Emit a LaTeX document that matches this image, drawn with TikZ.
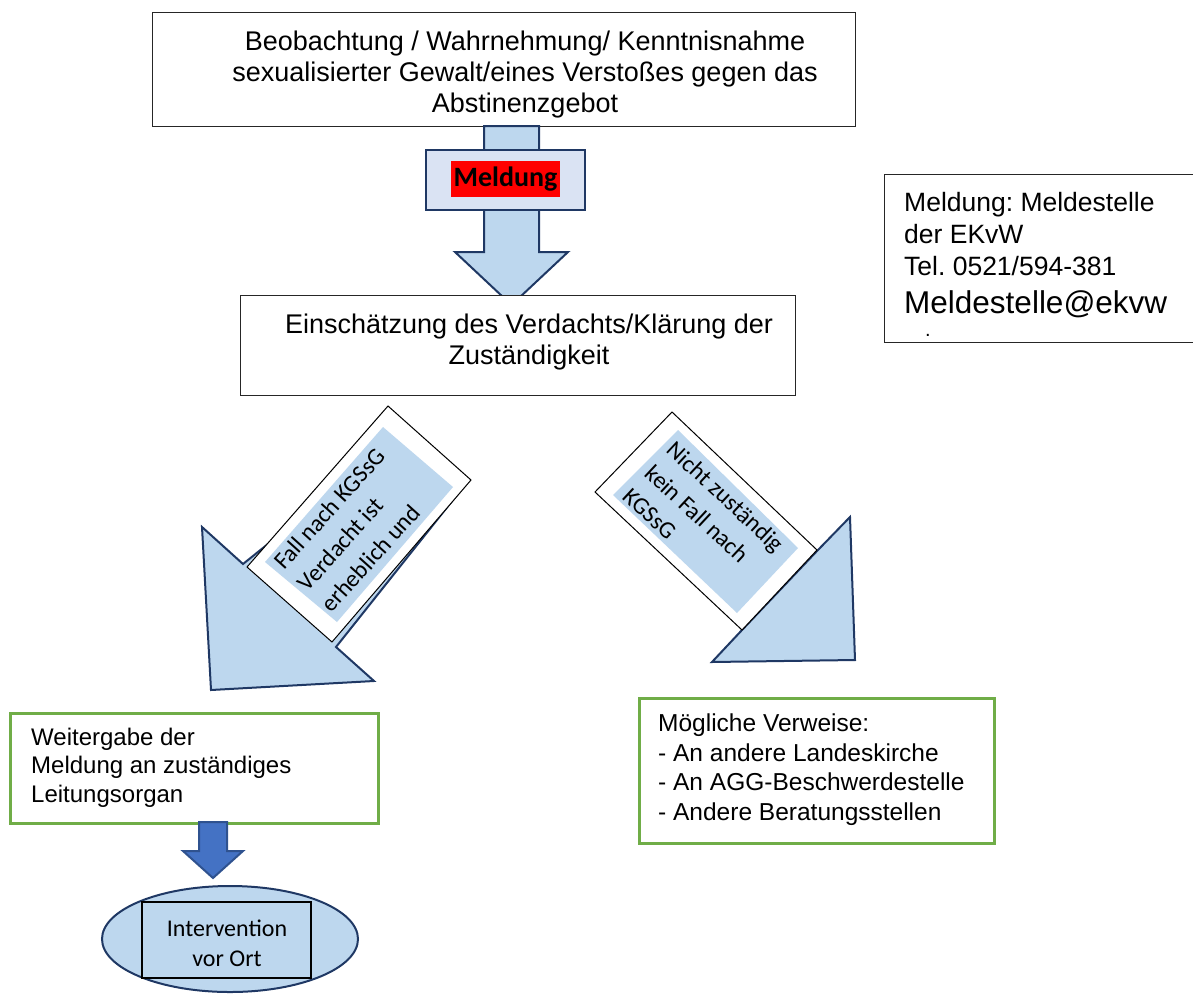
\documentclass[tikz,border=0pt]{standalone}
\usepackage{fontspec}
\setmainfont{Liberation Sans}
\newfontfamily\calibri{Carlito}
\usetikzlibrary{shapes.geometric}
\definecolor{lblue}{HTML}{BDD7EE}
\definecolor{navy}{HTML}{1F3864}
\definecolor{callout}{HTML}{DAE3F3}
\definecolor{lgreen}{HTML}{70AD47}
\definecolor{mblue}{HTML}{4472C4}
\definecolor{mborder}{HTML}{2F528F}
\frenchspacing
\begin{document}
\begin{tikzpicture}[x=1pt,y=-1pt,
  box/.style={draw=black!85, line width=1.3pt, fill=white, inner sep=0},
  arrowshape/.style={draw=navy, line width=2pt, fill=lblue, line join=miter},
  tiltbox/.style={draw=black, line width=1pt, fill=white},
  greenbox/.style={draw=lgreen, line width=2.5pt, fill=white, inner sep=0},
  arialtext/.style={inner sep=0, font=\fontsize{27}{31}\selectfont},
  calitext/.style={inner sep=0, font=\calibri\fontsize{24}{30}\selectfont},
  tilttext/.style={inner sep=0, font=\calibri\fontsize{24}{32}\selectfont, align=left}]
\useasboundingbox (0,0) rectangle (1193,993);

% top box
\node[box, minimum width=703, minimum height=114, anchor=north west] (obs) at (152,12) {};
\begin{scope}
\clip (152,12) rectangle (855,117);
\node[arialtext, align=center, anchor=north] (obsText) at (525,31) {Beobachtung / Wahrnehmung/ Kenntnisnahme\\sexualisierter Gewalt/eines Verstoßes gegen das\\Abstinenzgebot};
\end{scope}

% Meldung arrow
\draw[arrowshape] (484,126) -- (539,126) -- (539,252) -- (568,252) -- (511.5,305) -- (455,252) -- (484,252) -- cycle;
\node[draw=navy, line width=1.8pt, fill=callout, minimum width=159, minimum height=60, anchor=north west, inner sep=0] (meldbox) at (425,149) {};
\node[fill=red, font=\calibri\bfseries\fontsize{28}{32}\selectfont, inner sep=0, minimum width=109, minimum height=36] (meld) at (505.5,179) {Meldung};

% assessment box
\node[box, minimum width=555, minimum height=100, anchor=north west] (assess) at (240,295) {};
\node[arialtext, align=center] (assessText) at (529,342) {Einschätzung des Verdachts/Klärung der\\Zuständigkeit};

% contact box
\node[box, minimum width=312, minimum height=168, anchor=north west] (contact) at (884,174) {};
\node[inner sep=0, font=\fontsize{26.5}{32}\selectfont, align=left, anchor=north west] (contactText) at (904,192) {Meldung: Meldestelle\\der EKvW\\Tel. 0521/594-381};
\node[inner sep=0, font=\fontsize{31.5}{36}\selectfont, anchor=base west] (mail) at (904,313) {Meldestelle@ekvw};
\node[inner sep=0, font=\fontsize{20}{24}\selectfont, anchor=base west] (dot) at (925,336) {.};

% left diagonal arrow
\draw[arrowshape] (410,430) -- (243,564) -- (202,527) -- (211,690) -- (374,681) -- (336,647) -- (464,486) -- cycle;
\draw[tiltbox] (388,406) -- (471,480) -- (332,642) -- (247,567) -- cycle;
\fill[lblue] (383,427) -- (453,487) -- (337,622) -- (265,562) -- cycle;
\node[tilttext, rotate=48] (leftLabel) at (353,530) {Fall nach KGSsG\\Verdacht ist\\erheblich und};

% right diagonal arrow
\draw[arrowshape] (817,551) -- (850,517) -- (855,660) -- (712,662) -- (742,630) -- cycle;
\draw[tiltbox] (672,412) -- (817,550) -- (742,630) -- (595,492) -- cycle;
\fill[lblue] (678,430) -- (798,548) -- (737,613) -- (613,495) -- cycle;
\node[tilttext, rotate=-43] (rightLabel) at (704,520) {Nicht zuständig\\kein Fall nach\\KGSsG};

% green boxes
\node[greenbox, minimum width=368, minimum height=110, anchor=north west] (forward) at (9,712) {};
\node[inner sep=0, font=\fontsize{24}{28.5}\selectfont, align=left, anchor=north west] (forwardText) at (31,727.5) {Weitergabe der\\Meldung an zuständiges\\Leitungsorgan};

\node[greenbox, minimum width=355, minimum height=145, anchor=north west] (refer) at (638,697) {};
\node[inner sep=0, font=\fontsize{24.5}{29.5}\selectfont, align=left, anchor=north west] (referText) at (658,714) {Mögliche Verweise:\\- An andere Landeskirche\\- An AGG-Beschwerdestelle\\- Andere Beratungsstellen};

% small blue arrow
\draw[draw=mborder, line width=2pt, fill=mblue, line join=miter] (199,822) -- (227,822) -- (227,851) -- (243,851) -- (213,878) -- (183,851) -- (199,851) -- cycle;

% intervention
\node[ellipse, draw=navy, line width=2pt, fill=lblue, minimum width=256, minimum height=106, inner sep=0] (interv) at (230,939) {};
\node[draw=black, line width=1.2pt, fill=lblue, minimum width=169, minimum height=76, inner sep=0] (intervBox) at (226.5,940) {};
\node[calitext, align=center] (intervText) at (227,943) {Intervention\\vor Ort};
\end{tikzpicture}
\end{document}
